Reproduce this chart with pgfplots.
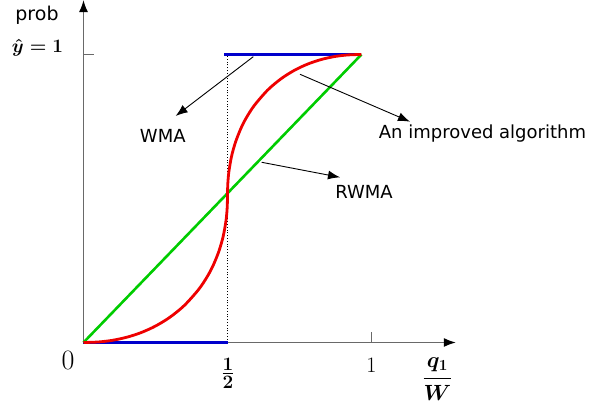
\documentclass[border=0pt]{standalone}
\usepackage{fix-cm}
\usepackage[no-math]{fontspec}
\usepackage{pgfplots}
\pgfplotsset{compat=1.18}
\usetikzlibrary{arrows.meta}
\newfontfamily\dejavu{DejaVu Sans}
\definecolor{cblue}{RGB}{0,0,204}
\definecolor{cred}{RGB}{238,0,0}
\definecolor{cgreen}{RGB}{0,204,0}
\definecolor{caxis}{RGB}{105,105,105}
\begin{document}
\begin{tikzpicture}
\useasboundingbox (-83.5pt,-63.5pt) rectangle (507.5pt,342.5pt);
\begin{axis}[
  at={(0pt,0pt)}, anchor=origin,
  x=288pt, y=288pt,
  xmin=0, xmax=1.293, ymin=0, ymax=1.189,
  axis x line=bottom, axis y line=left,
  axis line style={draw=caxis, line width=1.4pt, -{Latex[length=12pt,width=9pt,black]}},
  xtick={1}, ytick={1}, xticklabels={}, yticklabels={},
  tick align=inside, major tick length=10pt,
  tick style={draw=caxis, line width=1pt},
  clip=false,
]
% dotted guide
\addplot[black, dotted, line width=0.8pt] coordinates {(0.5,0) (0.5,1)};
% WMA (blue)
\addplot[cblue, line width=3pt] coordinates {(0,0) (0.5,0)};
\addplot[cblue, line width=3pt] coordinates {(0.488,1) (0.965,1)};
% RWMA (green)
\addplot[cgreen, line width=2.6pt] coordinates {(0,0) (0.965,1)};
% improved algorithm (red)
\addplot[cred, line width=2.8pt, smooth] coordinates {
(0,0) (0.05,0.0017) (0.1,0.0075) (0.15,0.0182) (0.2,0.0344) (0.25,0.0571) (0.3,0.0877)
(0.35,0.1285) (0.4,0.1844) (0.43,0.2293) (0.45,0.2672) (0.47,0.3164)
(0.485,0.3686) (0.495,0.4247) (0.499,0.4696) (0.5,0.51)
(0.50093,0.5488) (0.50465,0.5920) (0.51395,0.6459) (0.5279,0.6960)
(0.5465,0.7433) (0.5651,0.7798) (0.593,0.8229) (0.6395,0.8766)
(0.686,0.9158) (0.7325,0.9452) (0.779,0.9670) (0.8255,0.9826) (0.872,0.9929)
(0.9185,0.9985) (0.965,1.0)};
% annotations
\draw[black, line width=0.9pt, -{Latex[length=12pt,width=9pt]}] (axis cs:0.5896,0.9924) -- (axis cs:0.3201,0.7865);
\draw[black, line width=0.9pt, -{Latex[length=12pt,width=9pt]}] (axis cs:0.7517,0.9313) -- (axis cs:1.1337,0.7667);
\draw[black, line width=0.9pt, -{Latex[length=12pt,width=9pt]}] (axis cs:0.6188,0.6257) -- (axis cs:0.8906,0.5736);
\node[font=\dejavu\fontsize{18}{20}\selectfont] at (axis cs:0.2753,0.716) {WMA};
\node[font=\dejavu\fontsize{18}{20}\selectfont] at (axis cs:1.3854,0.724) {An improved algorithm};
\node[font=\dejavu\fontsize{18}{20}\selectfont] at (axis cs:0.974,0.5236) {RWMA};
% axis labels
\node[inner sep=0pt, font=\dejavu\fontsize{19}{21}\selectfont] at (axis cs:-0.1615,1.135) {prob};
\node[inner sep=0pt, font=\fontsize{19}{21}\selectfont\boldmath] at (axis cs:-0.1597,1.022) {$\hat{y}=1$};
\node[inner sep=0pt, font=\fontsize{28}{30}\selectfont] at (axis cs:-0.0538,-0.064) {$0$};
\node[inner sep=0pt, font=\fontsize{22}{24}\selectfont] at (axis cs:1.0,-0.078) {$1$};
\node[inner sep=0pt, font=\fontsize{19}{21}\selectfont\boldmath] at (axis cs:0.5017,-0.106) {$\frac{\textstyle 1\rule[-1.5pt]{0pt}{1pt}}{\textstyle 2\rule{0pt}{14pt}}$};
\node[inner sep=0pt, font=\fontsize{22}{24}\selectfont\boldmath] at (axis cs:1.229,-0.1267) {$\displaystyle\frac{q_1}{W}$};
\end{axis}
\end{tikzpicture}
\end{document}
